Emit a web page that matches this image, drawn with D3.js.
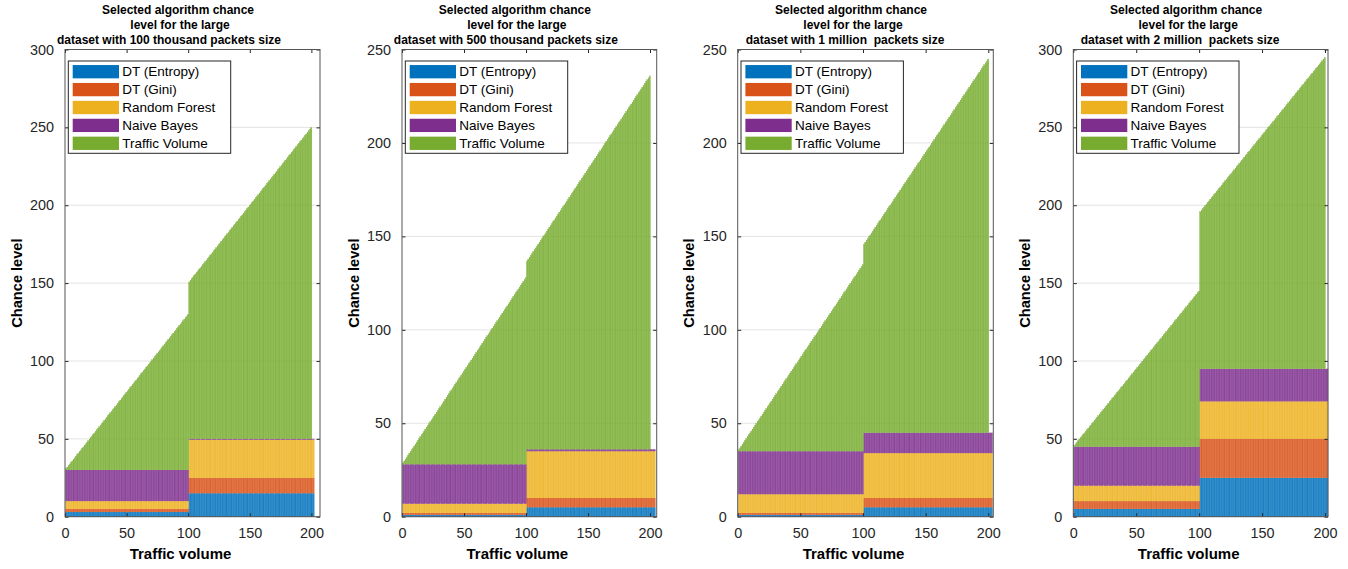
<!DOCTYPE html>
<html>
<head>
<meta charset="utf-8">
<script src="https://cdn.jsdelivr.net/npm/d3@7"></script>
<style>
  body { margin: 0; background: #fff; }
  svg text { font-family: "Liberation Sans", Arial, Helvetica, sans-serif; }
</style>
</head>
<body>
<svg id="chart" width="1348" height="569"></svg>
<script>
// ---- data ----------------------------------------------------------------
const seriesKeys   = ["entropy", "gini", "forest", "bayes", "traffic"];
const seriesNames  = ["DT (Entropy)", "DT (Gini)", "Random Forest", "Naive Bayes", "Traffic Volume"];
const seriesColors = ["#0072BD", "#D95319", "#EDB120", "#7E2F8E", "#77AC30"];

const packetSizes = ["100 thousand", "500 thousand", "1 million ", "2 million "];

// chance level of each algorithm: [traffic volume 1-100, traffic volume 101 and up]
const dtEntropy    = [[3, 15],  [1, 5],  [1, 5],   [5, 25]];
const dtGini       = [[2, 10],  [1, 5],  [1, 5],   [5, 25]];
const randomForest = [[5, 24.5],[5, 25], [10, 24], [10, 24]];
const naiveBayes   = [[20, 0.5],[21, 1], [23, 11], [25, 21]];

// traffic volume categories on the x axis (the green series is the volume itself)
const trafficVolume = d3.range(1, 201);
const lastBar = [202, 204, 203, 202];   // last category holding algorithm bars

const yMax   = [300, 250, 250, 300];
const xMax   = [207, 205.4, 204, 202.4];
const xTicks = [0, 50, 100, 150, 200];
const yTickStep = 50;

// ---- layout --------------------------------------------------------------
const panels = [
  { left: 65,     right: 320 },
  { left: 402,    right: 656.7 },
  { left: 737.7,  right: 993.3 },
  { left: 1073.3, right: 1328 }
];
const plotTop = 49.5, plotBottom = 516.7;
const axisColor = "#262626";

const svg = d3.select("#chart");

panels.forEach((p, pi) => {
  const g = svg.append("g");
  const x = d3.scaleLinear().domain([0, xMax[pi]]).range([p.left, p.right]);
  const y = d3.scaleLinear().domain([0, yMax[pi]]).range([plotBottom, plotTop]);
  const yTicks = d3.range(0, yMax[pi] + 1, yTickStep);
  const cx = (p.left + p.right) / 2;

  // horizontal grid
  g.append("g").selectAll("line").data(yTicks).join("line")
    .attr("x1", p.left).attr("x2", p.right)
    .attr("y1", d => y(d)).attr("y2", d => y(d))
    .attr("stroke", "#e3e3e3").attr("stroke-width", 1);

  // rows for stacking
  const volumeSet = new Set(trafficVolume);
  const rows = d3.range(1, lastBar[pi] + 1).map(v => {
    const k = v <= 100 ? 0 : 1;
    return {
      x: v,
      entropy: dtEntropy[pi][k],
      gini: dtGini[pi][k],
      forest: randomForest[pi][k],
      bayes: naiveBayes[pi][k],
      traffic: volumeSet.has(v) ? v : 0
    };
  });
  const stacked = d3.stack().keys(seriesKeys)(rows);

  // bar faces, then thin bar edges at every category boundary
  stacked.forEach((layer, si) => {
    const lg = g.append("g");
    const segs = layer.filter(d => d[1] > d[0]);
    lg.selectAll("rect")
      .data(segs)
      .join("rect")
      .attr("x", d => x(d.data.x - 0.5))
      .attr("width", d => x(d.data.x + 0.5) - x(d.data.x - 0.5) + 0.05)
      .attr("y", d => y(d[1]))
      .attr("height", d => y(d[0]) - y(d[1]))
      .attr("fill", seriesColors[si])
      .attr("fill-opacity", 0.8);
    lg.selectAll("line")
      .data(segs)
      .join("line")
      .attr("x1", d => x(d.data.x - 0.5)).attr("x2", d => x(d.data.x - 0.5))
      .attr("y1", d => y(d[1])).attr("y2", d => y(d[0]))
      .attr("stroke", seriesColors[si])
      .attr("stroke-opacity", 0.9)
      .attr("stroke-width", 0.5)
      .attr("shape-rendering", "crispEdges");
  });

  // axes with inward ticks
  const tl = 3.5;
  const left = g.append("g").attr("transform", `translate(${p.left},0)`)
    .call(d3.axisLeft(y).tickValues(yTicks).tickSizeInner(-tl).tickSizeOuter(0).tickPadding(11));
  const right = g.append("g").attr("transform", `translate(${p.right},0)`)
    .call(d3.axisRight(y).tickValues(yTicks).tickSizeInner(-tl).tickSizeOuter(0).tickFormat(""));
  const bottom = g.append("g").attr("transform", `translate(0,${plotBottom})`)
    .call(d3.axisBottom(x).tickValues(xTicks).tickSizeInner(-tl).tickSizeOuter(0).tickPadding(11.5));
  const top = g.append("g").attr("transform", `translate(0,${plotTop})`)
    .call(d3.axisTop(x).tickValues(xTicks).tickSizeInner(-tl).tickSizeOuter(0).tickFormat(""));
  [left, right, bottom, top].forEach(a => {
    a.select(".domain").remove();
    a.selectAll("line").attr("stroke", axisColor);
    a.selectAll("text").attr("fill", axisColor).style("font-size", "14.4px");
  });

  // frame
  g.append("rect")
    .attr("x", p.left).attr("y", plotTop)
    .attr("width", p.right - p.left).attr("height", plotBottom - plotTop)
    .attr("fill", "none").attr("stroke", "#555").attr("stroke-width", 1);

  // title
  const titleLines = [
    ["Selected algorithm chance", -14.5],
    ["level for the large", -12.5],
    ["dataset with " + packetSizes[pi] + " packets size", pi < 2 ? -23.5 : -20.5]
  ];
  g.append("g").selectAll("text").data(titleLines).join("text")
    .attr("x", d => cx + d[1])
    .attr("y", (d, i) => 14 + i * 15)
    .attr("text-anchor", "middle")
    .style("font-size", "12px").style("font-weight", "bold")
    .style("white-space", "pre")
    .attr("fill", "#000")
    .text(d => d[0]);

  // axis labels
  g.append("text")
    .attr("x", cx - 12).attr("y", 559)
    .attr("text-anchor", "middle")
    .style("font-size", "15px").style("font-weight", "bold")
    .attr("fill", "#000")
    .text("Traffic volume");
  g.append("text")
    .attr("transform", `translate(${p.left - 48.3},${(plotTop + plotBottom) / 2}) rotate(-90)`)
    .attr("text-anchor", "middle")
    .attr("dominant-baseline", "central")
    .style("font-size", "14.6px").style("font-weight", "bold")
    .attr("fill", "#000")
    .text("Chance level");

  // legend
  const lx = p.left + 3.3, ly = plotTop + 11.5;
  const lg = g.append("g");
  lg.append("rect")
    .attr("x", lx).attr("y", ly).attr("width", 162.4).attr("height", 92.3)
    .attr("fill", "#fff").attr("stroke", axisColor).attr("stroke-width", 1);
  const items = lg.selectAll("g.item").data(seriesNames).join("g")
    .attr("transform", (d, i) => `translate(${lx},${ly + 10.7 + i * 17.9})`);
  items.append("rect")
    .attr("x", 4.4).attr("y", -6.65).attr("width", 46.3).attr("height", 13.3)
    .attr("fill", (d, i) => seriesColors[i]);
  items.append("text")
    .attr("x", 54).attr("y", 0)
    .attr("dominant-baseline", "central")
    .style("font-size", "13.5px")
    .attr("fill", "#000")
    .text(d => d);
});
</script>
</body>
</html>
